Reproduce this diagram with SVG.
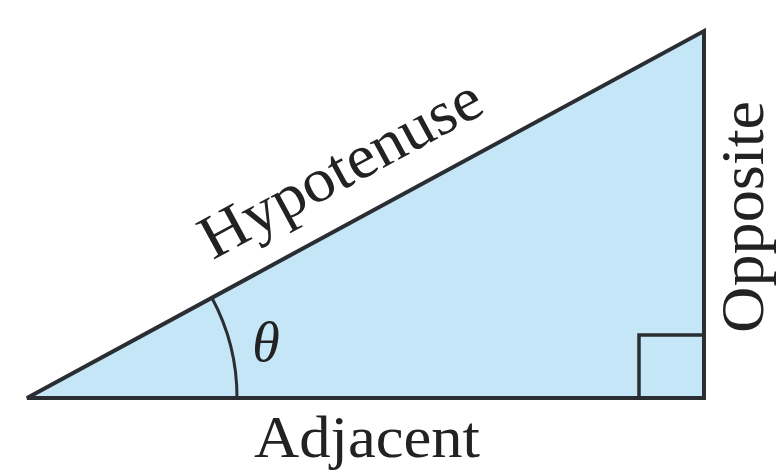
<svg xmlns="http://www.w3.org/2000/svg" width="777" height="471" viewBox="0 0 777 471">
<style>
.lbl{font-family:"Liberation Serif","Times New Roman",serif;font-size:62px;fill:#222}
.ln{fill:none;stroke:#2a2e33;stroke-linejoin:miter}
</style>
<rect width="777" height="471" fill="#fff"/>
<g id="triangle">
<polygon points="27,398 704,398 704,31" fill="#c4e6f6" stroke="#2a2e33" stroke-width="4" stroke-linejoin="miter"/>
</g>
<g id="right-angle">
<polyline class="ln" points="639,398 639,335 704,335" stroke-width="3.5"/>
</g>
<g id="angle">
<path class="ln" d="M 237,398 A 210,210 0 0 0 212,298" stroke-width="3"/>
<text x="266" y="361" text-anchor="middle" font-family="'Liberation Serif','Times New Roman',serif" font-style="italic" font-size="56" fill="#222">θ</text>
</g>
<g id="hypotenuse-label">
<text class="lbl" x="0" y="0" text-anchor="middle" textLength="312" lengthAdjust="spacingAndGlyphs" transform="translate(350,186) rotate(-28.46)">Hypotenuse</text>
</g>
<g id="adjacent-label">
<text class="lbl" x="367" y="457" text-anchor="middle" textLength="226" lengthAdjust="spacingAndGlyphs" style="font-size:60px">Adjacent</text>
</g>
<g id="opposite-label">
<text class="lbl" x="0" y="0" text-anchor="middle" textLength="232" lengthAdjust="spacingAndGlyphs" transform="translate(763,217) rotate(-90)">Opposite</text>
</g>
</svg>
